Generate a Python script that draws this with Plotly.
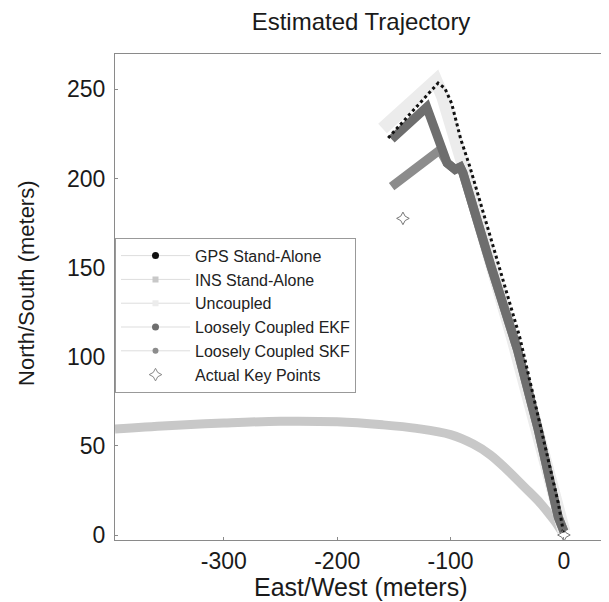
import plotly.graph_objects as go

# ---- data ----
gps_x = [-155, -111, -105, -99, -91, -86, -83, -39, -5, 0]
gps_y = [222.7, 253.5, 250.5, 242, 222, 212, 206.6, 111, 18, 0]

ins_x = [-396, -350, -300, -250, -200, -160, -130, -100, -80, -65, -50, -35, -21, -12, -6, -2]
ins_y = [59.5, 61.3, 62.8, 63.8, 63.5, 61.8, 59.8, 56.3, 51, 45, 36.5, 27, 18, 11, 6, 2]

unc_x = [-160, -113, -107, -101, -95, -90, -45, -8, 0]
unc_y = [228, 255, 246, 234, 220, 210, 110, 18, 2]

ekf_x = [-152, -121, -103, -96, -91.5, -89, -64, -41, -23, -5, 0]
ekf_y = [222, 240, 208.6, 205, 206.4, 203, 150, 104, 60, 10, 2]

skf_x = [-152, -109.4, -103, -96, -91.5, -89, -64, -41, -23, -5, 0]
skf_y = [195.4, 216, 208.6, 205, 206.4, 203, 150, 104, 60, 10, 2]

key_x = [-142, 0]
key_y = [177.6, 0]

series_names = ["GPS Stand-Alone", "INS Stand-Alone", "Uncoupled",
                "Loosely Coupled EKF", "Loosely Coupled SKF", "Actual Key Points"]

x_ticks = [-300, -200, -100, 0]
x_tick_text = ["-300", "-200", "-100", "0"]
y_ticks = [0, 50, 100, 150, 200, 250]
y_tick_text = ["0", "50", "100", "150", "200", "250"]

fig = go.Figure()

# visible curves (drawn bottom to top)
fig.add_trace(go.Scatter(x=ins_x, y=ins_y, mode="lines", line=dict(color="#c8c8c8", width=9, shape="spline"),
                         showlegend=False, hoverinfo="skip"))
fig.add_trace(go.Scatter(x=unc_x, y=unc_y, mode="lines", line=dict(color="#ececec", width=13),
                         showlegend=False, hoverinfo="skip"))
fig.add_trace(go.Scatter(x=skf_x, y=skf_y, mode="lines", line=dict(color="#8c8c8c", width=9),
                         showlegend=False, hoverinfo="skip"))
fig.add_trace(go.Scatter(x=ekf_x, y=ekf_y, mode="lines", line=dict(color="#6e6e6e", width=9),
                         showlegend=False, hoverinfo="skip"))
fig.add_trace(go.Scatter(x=gps_x, y=gps_y, mode="lines", line=dict(color="#111111", width=3, dash="3px,3px"),
                         showlegend=False, hoverinfo="skip"))
fig.add_trace(go.Scatter(x=key_x, y=key_y, mode="markers",
                         marker=dict(symbol="star-diamond-open", size=9, color="#777777", line=dict(width=1)),
                         showlegend=False, hoverinfo="skip"))

# legend entries
legend_style = [
    dict(color="#111111", symbol="circle", size=7),
    dict(color="#c8c8c8", symbol="square", size=6),
    dict(color="#ececec", symbol="square", size=6),
    dict(color="#6e6e6e", symbol="circle", size=7),
    dict(color="#8c8c8c", symbol="circle", size=6),
    dict(color="#888888", symbol="star-diamond-open", size=9),
]
for i, (name, st) in enumerate(zip(series_names, legend_style)):
    is_key = name == "Actual Key Points"
    fig.add_trace(go.Scatter(
        x=[None], y=[None], name=name, legendgroup=f"g{i}",
        mode="markers" if is_key else "lines+markers",
        line=dict(color="#dddddd", width=1),
        marker=dict(color=st["color"], symbol=st["symbol"], size=st["size"]),
        showlegend=True))

axis_common = dict(showline=True, linecolor="#8a8a8a", linewidth=1, mirror=True,
                   ticks="inside", ticklen=3, tickcolor="#8a8a8a", showgrid=False,
                   zeroline=False, automargin=False, tickfont=dict(size=23, color="#1a1a1a"))

# the page body adds an 8px offset, so the figure is sized to fit the 609x602 window
fig.update_layout(
    width=601, height=594,
    margin=dict(l=107, r=2, t=46, b=62),
    paper_bgcolor="white", plot_bgcolor="white",
    font=dict(family="Liberation Sans, Arial, sans-serif", color="#1a1a1a"),
    title=dict(text="Estimated Trajectory", x=0.5, xanchor="center", xref="paper",
               y=0.977, yanchor="middle", font=dict(size=24)),
    xaxis=dict(range=[-396, 38], tickvals=x_ticks, ticktext=x_tick_text, **axis_common),
    yaxis=dict(range=[-2.8, 269.8], tickvals=y_ticks, ticktext=y_tick_text,
               ticklabelstandoff=4, **axis_common),
    legend=dict(x=0, xanchor="left", y=0.622, yanchor="top",
                bordercolor="#999999", borderwidth=1, bgcolor="white",
                font=dict(size=16, color="#222222"), itemwidth=69,
                tracegroupgap=0),
    annotations=[
        dict(text="East/West (meters)", xref="paper", yref="paper", x=0.498, y=0,
             xanchor="center", yanchor="middle", yshift=-47, showarrow=False,
             font=dict(size=25, color="#1a1a1a")),
        dict(text="North/South (meters)", xref="paper", yref="paper", x=0, y=0.527,
             xanchor="center", yanchor="middle", xshift=-88, textangle=-90, showarrow=False,
             font=dict(size=22, color="#1a1a1a")),
    ],
)

fig.write_html("out.html")
